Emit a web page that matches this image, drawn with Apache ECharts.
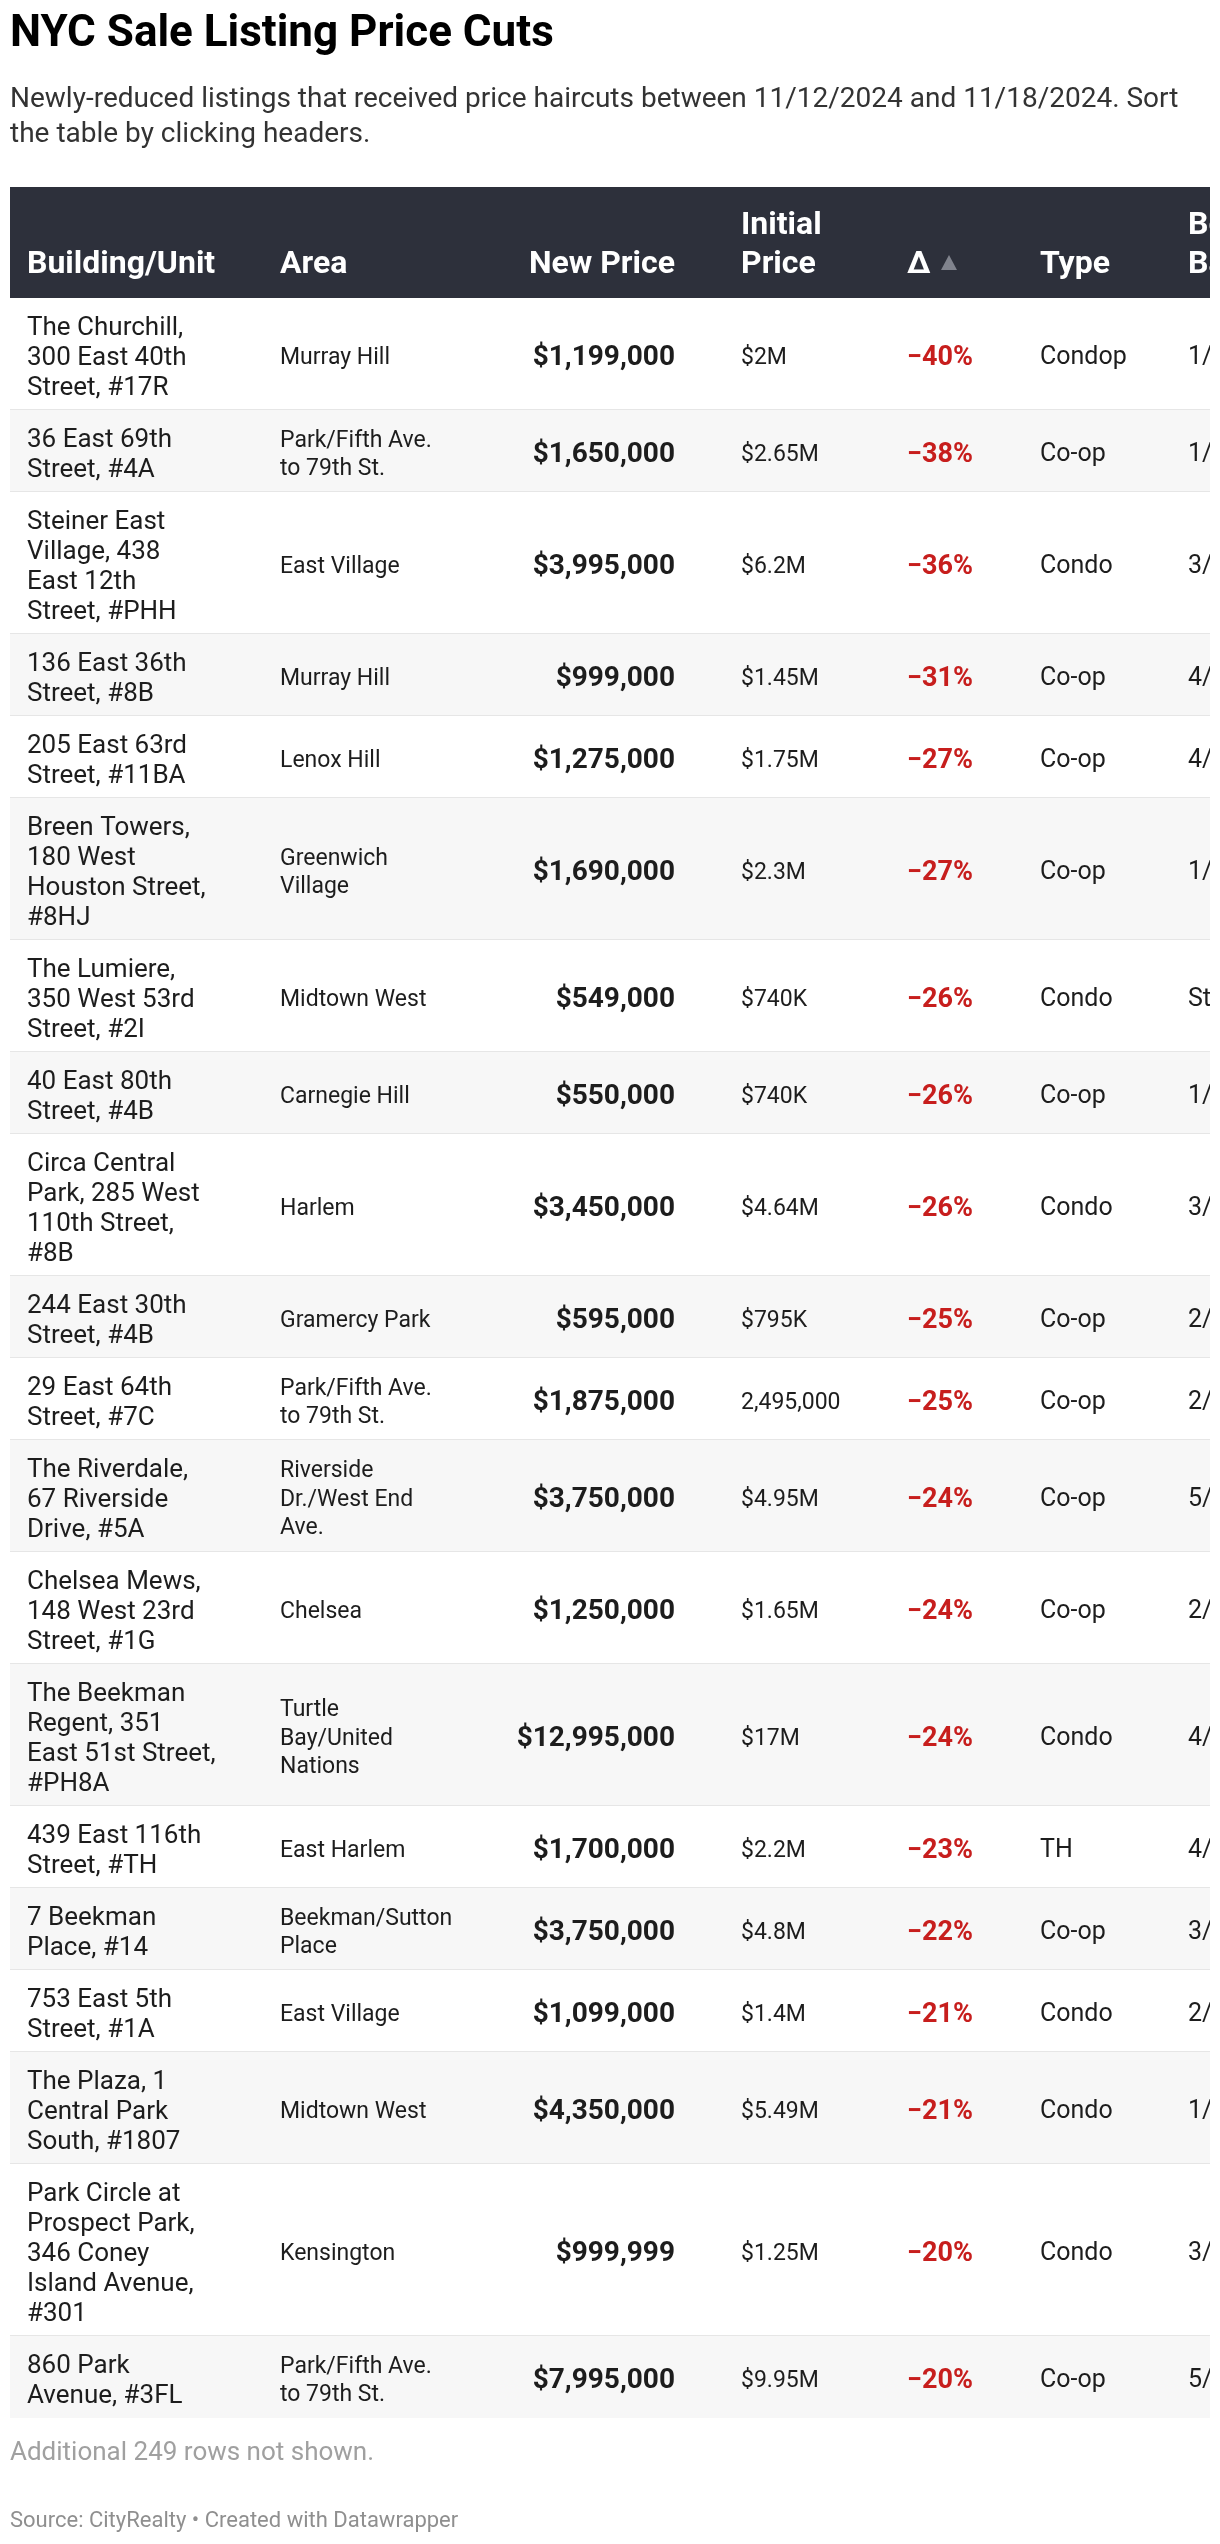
<!DOCTYPE html>
<html>
<head>
<meta charset="utf-8">
<script src="https://cdn.jsdelivr.net/npm/echarts@6/dist/echarts.min.js"></script>
<style>
html,body{margin:0;padding:0;background:#fff;}
#chart{width:1220px;height:2544px;}
</style>
</head>
<body>
<div id="chart"></div>
<script>
// ---------------- DATA ----------------
const headers = ['Building/Unit', 'Area', 'New Price', 'Initial\nPrice', 'Δ', 'Type', 'Beds/\nBaths'];

const buildings = [
  'The Churchill,\n300 East 40th\nStreet, #17R',
  '36 East 69th\nStreet, #4A',
  'Steiner East\nVillage, 438\nEast 12th\nStreet, #PHH',
  '136 East 36th\nStreet, #8B',
  '205 East 63rd\nStreet, #11BA',
  'Breen Towers,\n180 West\nHouston Street,\n#8HJ',
  'The Lumiere,\n350 West 53rd\nStreet, #2I',
  '40 East 80th\nStreet, #4B',
  'Circa Central\nPark, 285 West\n110th Street,\n#8B',
  '244 East 30th\nStreet, #4B',
  '29 East 64th\nStreet, #7C',
  'The Riverdale,\n67 Riverside\nDrive, #5A',
  'Chelsea Mews,\n148 West 23rd\nStreet, #1G',
  'The Beekman\nRegent, 351\nEast 51st Street,\n#PH8A',
  '439 East 116th\nStreet, #TH',
  '7 Beekman\nPlace, #14',
  '753 East 5th\nStreet, #1A',
  'The Plaza, 1\nCentral Park\nSouth, #1807',
  'Park Circle at\nProspect Park,\n346 Coney\nIsland Avenue,\n#301',
  '860 Park\nAvenue, #3FL'
];

const areas = [
  'Murray Hill',
  'Park/Fifth Ave.\nto 79th St.',
  'East Village',
  'Murray Hill',
  'Lenox Hill',
  'Greenwich\nVillage',
  'Midtown West',
  'Carnegie Hill',
  'Harlem',
  'Gramercy Park',
  'Park/Fifth Ave.\nto 79th St.',
  'Riverside\nDr./West End\nAve.',
  'Chelsea',
  'Turtle\nBay/United\nNations',
  'East Harlem',
  'Beekman/Sutton\nPlace',
  'East Village',
  'Midtown West',
  'Kensington',
  'Park/Fifth Ave.\nto 79th St.'
];

const newPrices = [1199000, 1650000, 3995000, 999000, 1275000, 1690000, 549000, 550000, 3450000, 595000,
                   1875000, 3750000, 1250000, 12995000, 1700000, 3750000, 1099000, 4350000, 999999, 7995000];

const initialPrices = ['$2M', '$2.65M', '$6.2M', '$1.45M', '$1.75M', '$2.3M', '$740K', '$740K', '$4.64M', '$795K',
                       '2,495,000', '$4.95M', '$1.65M', '$17M', '$2.2M', '$4.8M', '$1.4M', '$5.49M', '$1.25M', '$9.95M'];

const deltas = [-40, -38, -36, -31, -27, -27, -26, -26, -26, -25, -25, -24, -24, -24, -23, -22, -21, -21, -20, -20];

const types = ['Condop', 'Co-op', 'Condo', 'Co-op', 'Co-op', 'Co-op', 'Condo', 'Co-op', 'Condo', 'Co-op',
               'Co-op', 'Co-op', 'Co-op', 'Condo', 'TH', 'Co-op', 'Condo', 'Condo', 'Condo', 'Co-op'];

// only the visible (clipped) part of the last column can be read
const bedsBaths = ['1/', '1/', '3/', '4/', '4/', '1/', 'St', '1/', '3/', '2/',
                   '2/', '5/', '2/', '4/', '4/', '3/', '2/', '1/', '3/', '5/'];

// ---------------- LAYOUT / STYLE ----------------
const FONT = 'Roboto';
const TABLE_W = 1200;
const HEADER_H = 111;
const LINE_H = 30;
const ROW_PAD = 22;
const TEXT_DY = 4;
const COLS = {
  building: { x: 17,  align: 'left',  size: 26, weight: 'normal', color: '#1d1d1d', lh: 30 },
  area:     { x: 270, align: 'left',  size: 23, weight: 'normal', color: '#1d1d1d', lh: 28.5 },
  newPrice: { x: 665, align: 'right', size: 28, weight: 'bold',   color: '#1d1d1d', lh: 30 },
  initial:  { x: 731, align: 'left',  size: 23, weight: 'normal', color: '#1d1d1d', lh: 30 },
  delta:    { x: 897, align: 'left',  size: 27, weight: 'bold',   color: '#c71e1d', lh: 30 },
  type:     { x: 1030, align: 'left', size: 25, weight: 'normal', color: '#1d1d1d', lh: 30 },
  beds:     { x: 1178, align: 'left', size: 25, weight: 'normal', color: '#1d1d1d', lh: 30 }
};
const COL_KEYS = ['building', 'area', 'newPrice', 'initial', 'delta', 'type', 'beds'];

// ---------------- BUILD ----------------
const fmtMoney = v => '$' + String(v).replace(/\B(?=(\d{3})+(?!\d))/g, ',');
const fmtDelta = v => (v < 0 ? '\u2212' : '') + Math.abs(v) + '%';

const rowData = [];
let cursor = HEADER_H;
buildings.forEach((b, i) => {
  const lines = Math.max(b.split('\n').length, areas[i].split('\n').length);
  const h = lines * LINE_H + ROW_PAD;
  rowData.push([0, cursor, cursor + h]);
  cursor += h;
});
const TOTAL_H = cursor;

function cellTexts(i) {
  return {
    building: buildings[i],
    area: areas[i],
    newPrice: fmtMoney(newPrices[i]),
    initial: initialPrices[i],
    delta: fmtDelta(deltas[i]),
    type: types[i],
    beds: bedsBaths[i]
  };
}

function renderRow(params, api) {
  const i = params.dataIndex;
  const top = api.coord([0, api.value(1)]);
  const bot = api.coord([TABLE_W, api.value(2)]);
  const x0 = top[0], y0 = top[1], x1 = bot[0], y1 = bot[1];
  const ym = (y0 + y1) / 2 + TEXT_DY;
  const texts = cellTexts(i);
  const children = [{
    type: 'rect',
    shape: { x: x0, y: y0, width: x1 - x0, height: y1 - y0 },
    style: { fill: i % 2 === 0 ? '#ffffff' : '#f7f7f7' }
  }];
  if (i < buildings.length - 1) {
    children.push({
      type: 'rect',
      shape: { x: x0, y: y1 - 1, width: x1 - x0, height: 2 },
      style: { fill: '#e6e6e6' }
    });
  }
  COL_KEYS.forEach(k => {
    const c = COLS[k];
    children.push({
      type: 'text',
      style: {
        text: texts[k],
        x: api.coord([c.x, 0])[0],
        y: ym,
        fill: c.color,
        fontFamily: FONT,
        fontSize: c.size,
        fontWeight: c.weight,
        lineHeight: c.lh,
        align: c.align,
        verticalAlign: 'middle'
      }
    });
  });
  return { type: 'group', children };
}

function renderHeader(params, api) {
  const top = api.coord([0, api.value(1)]);
  const bot = api.coord([TABLE_W, api.value(2)]);
  const x0 = top[0], y0 = top[1], x1 = bot[0], y1 = bot[1];
  const children = [{
    type: 'rect',
    shape: { x: x0, y: y0, width: x1 - x0, height: y1 - y0 },
    style: { fill: '#2d303b' }
  }];
  COL_KEYS.forEach((k, j) => {
    const c = COLS[k];
    children.push({
      type: 'text',
      style: {
        text: headers[j],
        x: api.coord([c.x, 0])[0],
        y: y1 - 14,
        fill: '#ffffff',
        fontFamily: FONT,
        fontSize: 32,
        fontWeight: 'bold',
        lineHeight: 39,
        align: c.align,
        verticalAlign: 'bottom'
      }
    });
  });
  // sort indicator next to Δ
  const dx = api.coord([COLS.delta.x, 0])[0];
  children.push({
    type: 'polygon',
    shape: { points: [[dx + 34, y1 - 28], [dx + 50, y1 - 28], [dx + 42, y1 - 43]] },
    style: { fill: '#80838d' }
  });
  return { type: 'group', children };
}

const chart = echarts.init(document.getElementById('chart'), null, { renderer: 'canvas' });
chart.setOption({
  animation: false,
  backgroundColor: '#ffffff',
  title: [
    {
      text: 'NYC Sale Listing Price Cuts', left: 10, top: 13, padding: 0,
      textStyle: { fontFamily: FONT, fontSize: 44, fontWeight: 'bold', color: '#000000' }
    },
    {
      text: 'Newly-reduced listings that received price haircuts between 11/12/2024 and 11/18/2024. Sort\nthe table by clicking headers.',
      left: 10, top: 82, padding: 0,
      textStyle: { fontFamily: FONT, fontSize: 28, fontWeight: 'normal', color: '#333333', lineHeight: 35 }
    },
    {
      text: 'Additional 249 rows not shown.', left: 10, top: 2440, padding: 0,
      textStyle: { fontFamily: FONT, fontSize: 26, fontWeight: 'normal', color: '#a0a0a0' }
    },
    {
      text: 'Source: CityRealty • Created with Datawrapper', left: 10, top: 2510, padding: 0,
      textStyle: { fontFamily: FONT, fontSize: 22, fontWeight: 'normal', color: '#8f8f8f' }
    }
  ],
  grid: { left: 10, right: 10, top: 187, height: TOTAL_H },
  xAxis: { type: 'value', min: 0, max: TABLE_W, show: false },
  yAxis: { type: 'value', min: 0, max: TOTAL_H, inverse: true, show: false },
  series: [
    {
      type: 'custom', name: 'header', clip: true,
      encode: { x: 0, y: [1, 2] },
      data: [[0, 0, HEADER_H]],
      renderItem: renderHeader
    },
    {
      type: 'custom', name: 'rows', clip: true,
      encode: { x: 0, y: [1, 2] },
      data: rowData,
      renderItem: renderRow
    }
  ]
});
</script>
</body>
</html>
